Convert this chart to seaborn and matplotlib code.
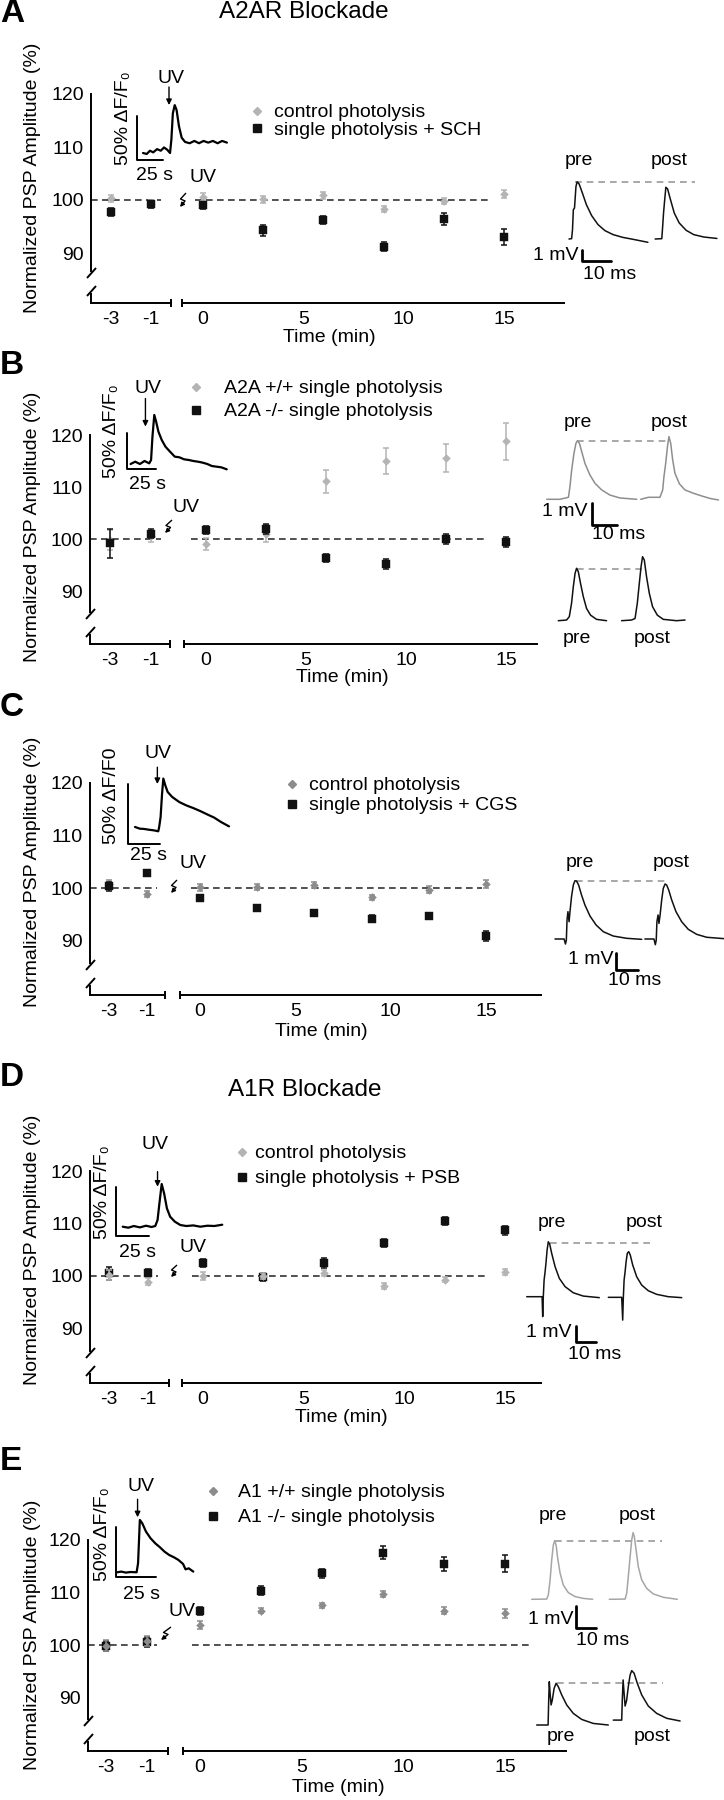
import numpy as np
import pandas as pd
import matplotlib
matplotlib.use("Agg")
import matplotlib.pyplot as plt
from matplotlib.lines import Line2D
import seaborn as sns

sns.set_theme(style="white")
plt.rcParams["font.family"] = ["Liberation Sans", "DejaVu Sans"]
plt.rcParams["font.size"] = 14
plt.rcParams["axes.linewidth"] = 1.4
for k in ["text.color", "axes.labelcolor", "xtick.color", "ytick.color", "axes.edgecolor"]:
    plt.rcParams[k] = "black"

# ---------------- data ----------------
time_pts = [-3, -1, 0, 3, 6, 9, 12, 15]

a_ctrl = [100.3, 99.2, 100.6, 100.1, 100.9, 98.3, 99.8, 101.1]
a_ctrl_err = [0.7, 0.8, 0.7, 0.6, 0.7, 0.6, 0.6, 0.8]
a_sch = [97.7, 99.2, 99.0, 94.3, 96.2, 91.2, 96.4, 93.0]
a_sch_err = [0.8, 0.7, 0.7, 1.0, 0.8, 0.9, 1.2, 1.5]

b_wt = [99.8, 100.5, 99.0, 101.0, 111.1, 115.0, 115.6, 118.8]
b_wt_err = [2.0, 1.0, 1.1, 1.6, 2.2, 2.5, 2.7, 3.6]
b_ko = [99.2, 101.0, 101.7, 101.9, 96.4, 95.2, 100.0, 99.4]
b_ko_err = [2.8, 0.9, 0.8, 1.0, 0.8, 1.0, 1.0, 0.9]

c_ctrl = [100.7, 98.9, 100.1, 100.2, 100.6, 98.2, 99.7, 100.8]
c_ctrl_err = [0.8, 0.6, 0.7, 0.5, 0.6, 0.5, 0.6, 0.8]
c_cgs = [100.3, 102.8, 98.1, 96.2, 95.3, 94.2, 94.7, 90.9]
c_cgs_err = [0.8, 0.4, 0.4, 0.6, 0.5, 0.6, 0.6, 0.9]

d_ctrl = [100.2, 98.9, 100.0, 100.0, 100.6, 98.1, 99.3, 100.7]
d_ctrl_err = [1.0, 0.7, 0.8, 0.6, 0.6, 0.6, 0.5, 0.6]
d_psb = [100.5, 100.6, 102.5, 99.8, 102.5, 106.3, 110.5, 108.7]
d_psb_err = [1.2, 0.8, 0.7, 0.8, 0.9, 0.7, 0.8, 0.8]

e_wt = [99.9, 100.8, 103.8, 106.5, 107.5, 109.7, 106.5, 106.0]
e_wt_err = [1.0, 0.9, 0.8, 0.5, 0.5, 0.5, 0.7, 0.8]
e_ko = [99.8, 100.6, 106.5, 110.3, 113.6, 117.5, 115.4, 115.4]
e_ko_err = [0.9, 0.9, 0.8, 0.9, 0.9, 1.2, 1.3, 1.6]

# calcium transients (s, % dF/F0)
a_ca_t = [0, 3.6, 6.7, 9.8, 13.5, 17.1, 20.2, 23.3, 26.0, 27.3, 28.7, 30.5, 32.3, 34.6, 37.2,
          40.4, 44.8, 49.4, 53.8, 58.2, 62.7, 67.2, 71.7, 76.1, 80.7]
a_ca_f = [0, -1.1, 2.6, 0.7, 4.4, 2.6, 6.3, 3.7, 0, 15.5, 45.1, 54.4, 48.8, 30.3, 17.4,
          12.6, 11.1, 13.7, 11.1, 13.7, 11.8, 13.7, 11.1, 13.7, 11.8]
b_ca_t = [0, 4.0, 8.1, 12.1, 16.2, 17.8, 19.0, 20.6, 22.2, 24.2, 27.1, 30.3, 34.3, 38.4, 42.4,
          46.5, 50.5, 54.5, 58.6, 62.6, 66.7, 70.7, 74.7, 78.8, 83.6]
b_ca_f = [0, 3.2, 0, 4.2, 0.9, 5.6, 37.9, 68.1, 58.8, 44.9, 33.3, 24.1, 17.1, 10.2, 9.3,
          6.5, 5.6, 4.2, 3.2, 1.9, 0, -2.8, -3.7, -4.6, -7.4]
c_ca_t = [0, 3.6, 7.2, 10.7, 14.3, 17.9, 18.6, 19.7, 20.8, 21.8, 23.3, 25.1, 28.6, 34.0, 39.4,
          44.7, 50.1, 55.5, 60.9, 66.2, 72.3]
c_ca_f = [4.2, 2.8, 2.5, 1.9, 1.4, 0.6, 4.2, 12.5, 31.7, 44.5, 38.9, 33.4, 29.2, 25.0, 22.2,
          20.0, 17.5, 14.7, 12.0, 8.3, 4.7]
d_ca_t = [0, 4.2, 8.3, 12.8, 17.4, 21.5, 24.3, 26.0, 27.4, 29.1, 30.9, 33.0, 35.4, 38.9, 43.0,
          47.5, 52.7, 57.9, 63.2, 68.4, 74.3]
d_ca_f = [0, -1.0, 0.7, -0.7, 1.0, -0.3, 0.7, 6.7, 23.6, 43.1, 33.7, 18.5, 10.1, 5.1, 1.7,
          0.7, 1.3, 0, 1.0, 0.7, 2.0]
e_ca_t = [0.9, 3.4, 6.3, 9.2, 12.9, 13.8, 14.4, 14.9, 16.4, 18.7, 21.5, 24.4, 27.3, 30.1, 33.0,
          35.9, 38.7, 41.6, 43.1, 45.1, 47.9]
e_ca_f = [0, 0.7, -0.3, 0.3, 0, 9.1, 32.7, 52.9, 49.5, 41.1, 34.4, 29.3, 25.3, 20.9, 17.5,
          15.2, 12.5, 8.4, 3.0, 4.0, 0.7]

# example PSPs (ms, mV)
a_pre_t = [0, 0.9, 1.2, 1.5, 1.9, 2.4, 2.8, 3.5, 4.6, 6.0, 7.8, 10.0, 12.4, 15.2, 18.5, 22.5, 27.2]
a_pre_v = [0, 0.03, 0.82, 2.66, 2.82, 4.77, 5.2, 5.0, 4.19, 3.12, 2.13, 1.31, 0.76, 0.4, 0.15, -0.05, -0.3]
a_post_t = [29.7, 32.0, 32.3, 32.6, 33.0, 33.4, 34.0, 35.0, 36.3, 38.0, 40.4, 43.0, 46.5, 51.0]
a_post_v = [0, 0.03, 1.15, 2.36, 3.57, 4.7, 4.55, 3.57, 2.36, 1.46, 0.79, 0.4, 0.18, 0.05]

b_wt_pre_t = [0, 5.3, 8.7, 9.3, 10, 10.9, 11.7, 12.3, 13.1, 14, 15.3, 17.3, 19.3, 22, 25.3, 29.3, 36]
b_wt_pre_v = [0, 0, 0.09, 0.57, 1.32, 2.06, 2.51, 2.63, 2.51, 2.14, 1.61, 1.09, 0.72, 0.42, 0.19, 0.06, 0]
b_wt_post_t = [37.6, 40.7, 45.3, 46.4, 46.9, 47.6, 48.3, 48.9, 49.6, 50.4, 51.3, 53.1, 55.3, 58.7, 62, 65.3, 68.7]
b_wt_post_v = [0, 0.09, 0.09, 0.42, 1.02, 1.61, 2.36, 2.81, 2.51, 1.76, 1.17, 0.69, 0.42, 0.27, 0.15, 0.04, -0.03]
b_ko_pre_t = [0, 3.3, 4.4, 5.3, 6, 6.7, 7.3, 8, 8.9, 10, 11.3, 12.9, 15.3, 19.3]
b_ko_pre_v = [0, 0.03, 0.18, 0.78, 1.52, 2.12, 2.35, 2.2, 1.67, 1.08, 0.55, 0.25, 0.06, 0]
b_ko_post_t = [25.3, 29.3, 30.7, 31.6, 32.4, 33.1, 33.7, 34.4, 35.3, 36.4, 37.7, 39.6, 42, 47.3, 50.7]
b_ko_post_v = [0, 0.03, 0.1, 0.78, 1.67, 2.42, 2.87, 2.72, 1.97, 1.23, 0.63, 0.25, 0.06, 0, 0.03]

c_pre_t = [0, 4.0, 4.6, 5.0, 5.3, 5.7, 6.2, 6.6, 7.3, 8.1, 8.8, 9.5, 10.4, 11.7, 13.2, 15.4, 18.1, 21.3, 25.7, 31.6, 38.2]
c_pre_v = [0, 0, -0.29, -0.06, 1.10, 1.58, 1.0, 1.58, 2.47, 3.14, 3.37, 3.35, 3.12, 2.54, 1.96, 1.33, 0.81, 0.42, 0.17, 0.04, -0.02]
c_post_t = [39.6, 43.6, 44.2, 44.6, 44.9, 45.4, 45.8, 46.3, 47.0, 47.7, 48.5, 49.2, 50.1, 51.4, 53.3, 55.8, 58.7, 62.4, 66.8, 74.5]
c_post_v = [0, 0, -0.33, -0.06, 1.0, 1.39, 0.9, 1.39, 2.26, 2.93, 3.18, 3.12, 2.83, 2.26, 1.58, 1.0, 0.56, 0.27, 0.1, 0.02]

d_pre_t = [0, 7.7, 8.0, 8.3, 8.7, 9.2, 9.7, 10.2, 10.8, 11.5, 12.5, 14.2, 16.3, 19.2, 23.3, 28.3, 36.3]
d_pre_v = [0, 0, -1.27, 0, 1.06, 1.59, 2.23, 2.97, 3.5, 3.35, 2.76, 1.91, 1.17, 0.64, 0.25, 0.04, -0.06]
d_post_t = [40.8, 47.5, 48.0, 48.3, 48.7, 49.2, 49.7, 50.3, 51.0, 51.8, 53.0, 55.0, 57.5, 60.8, 65.0, 70.8, 77.5]
d_post_v = [-0.04, -0.04, -1.49, -0.11, 1.06, 1.59, 2.23, 2.76, 2.87, 2.65, 2.02, 1.27, 0.74, 0.38, 0.15, 0, -0.06]

e_wt_pre_t = [0, 7.5, 8.3, 9.2, 10, 10.8, 11.5, 12.2, 13, 14.2, 15.8, 18.3, 21.7, 25.8, 30.5]
e_wt_pre_v = [0, 0.01, 0.19, 0.87, 1.76, 2.43, 2.63, 2.43, 1.84, 1.17, 0.64, 0.3, 0.12, 0.04, 0]
e_wt_post_t = [38.8, 46.7, 47.5, 48.3, 49.2, 50, 50.7, 51.3, 52.2, 53.3, 55, 57.5, 60.8, 65.8, 72.8]
e_wt_post_v = [0, 0.01, 0.27, 1.02, 1.91, 2.66, 2.99, 2.81, 2.21, 1.46, 0.87, 0.49, 0.24, 0.09, 0]
e_ko_pre_t = [0, 5.7, 6, 6.3, 6.7, 7.2, 7.8, 8.7, 9.7, 10.8, 12.5, 15, 18.3, 22.5, 28.3, 35.8]
e_ko_pre_v = [0, 0, 1.12, 1.94, 1.42, 0.9, 1.12, 1.64, 1.87, 1.72, 1.35, 0.9, 0.52, 0.25, 0.07, 0]
e_ko_post_t = [38.3, 42.5, 42.8, 43.2, 43.7, 44.2, 45, 45.8, 46.7, 47.5, 48.7, 50.3, 52.5, 55.8, 60, 65, 71.7]
e_ko_post_v = [0.22, 0.22, 1.12, 2.02, 1.42, 0.85, 1.12, 1.72, 2.24, 2.44, 2.32, 1.87, 1.35, 0.85, 0.52, 0.3, 0.18]

# ---------------- figure helpers (pixel layout) ----------------
W, H = 724, 1800
fig = plt.figure(figsize=(W / 100, H / 100), dpi=100)
FS = 14
LIGHT, MID, BLACK = "#b4b4b4", "#8c8c8c", "#111111"


def fbox(x0, y0, x1, y1):
    return [x0 / W, 1 - y1 / H, (x1 - x0) / W, (y1 - y0) / H]


def fline(xs, ys, lw=1.4):
    fig.add_artist(Line2D([x / W for x in xs], [1 - y / H for y in ys], lw=lw, color="black",
                          solid_capstyle="butt"))


def ftext(x, y, s, **kw):
    fig.text(x / W, 1 - y / H, s, **kw)


def scaled_axes(origin, ppx, ppy, box):
    x0, y0, x1, y1 = box
    ox, oy = origin
    ax = fig.add_axes(fbox(*box))
    ax.set_xlim((x0 - ox) / ppx, (x1 - ox) / ppx)
    ax.set_ylim((oy - y1) / ppy, (oy - y0) / ppy)
    ax.axis("off")
    return ax


def uv_bolt(text_xy, start, end):
    ftext(text_xy[0], text_xy[1], "UV", ha="center", va="center", fontsize=FS)
    sx, sy = start
    ex, ey = end
    mx, my = (sx + ex) / 2, (sy + ey) / 2
    fline([sx, mx - 2.5, mx + 2.0], [sy, my - 1, my + 1], lw=1.0)
    fig.axes[-1].annotate("", xy=(ex, H - ey), xytext=(mx + 2.0, H - my - 1),
                          xycoords="figure pixels", textcoords="figure pixels",
                          arrowprops=dict(arrowstyle="-|>", color="black", lw=1.0,
                                          mutation_scale=6, shrinkA=0, shrinkB=0),
                          annotation_clip=False)


def panel(lay, series, labels):
    Y, y100, ppu = lay["Y"], lay["y100"], lay["ppu"]
    top = y100 - 26 * ppu
    ybot = 100 - (Y - y100) / ppu
    axl = fig.add_axes(fbox(lay["l0"], top, lay["l1"], Y))
    axr = fig.add_axes(fbox(lay["r0"], top, lay["r1"], Y))
    ppl = (lay["xm1"] - lay["xm3"]) / 2
    ppr = (lay["x15"] - lay["x0"]) / 15
    xl = (-3 + (lay["l0"] - lay["xm3"]) / ppl, -3 + (lay["l1"] - lay["xm3"]) / ppl)
    xr = ((lay["r0"] - lay["x0"]) / ppr, (lay["r1"] - lay["x0"]) / ppr)
    dashes = {True: (xl[0], -0.5), False: lay["dash"]}
    for ax, lim, pre in ((axl, xl, True), (axr, xr, False)):
        ax.patch.set_visible(False)
        ax.hlines(100, *dashes[pre], colors="#333333", linestyles=(0, (4, 2.6)), lw=1.2, zorder=1)
        for s in series:
            df = pd.DataFrame({"time": time_pts, "amp": s["mean"], "sem": s["err"]})
            sub = df[df["time"] < 0] if pre else df[df["time"] >= 0]
            ax.errorbar(sub["time"], sub["amp"], yerr=sub["sem"], fmt="none", ecolor=s["color"],
                        elinewidth=1.1, capsize=2.2, capthick=1.1, zorder=s["z"])
            sns.scatterplot(data=sub, x="time", y="amp", marker=s["marker"], s=s["size"],
                            color=s["color"], edgecolor=s["color"], linewidth=0.3,
                            ax=ax, zorder=s["z"] + 0.5, legend=False)
        ax.set_xlim(*lim)
        ax.set_ylim(ybot, 126)
        ax.set_xlabel("")
        ax.set_ylabel("")
        ax.spines["top"].set_visible(False)
        ax.spines["right"].set_visible(False)
        ax.tick_params(axis="x", length=3, width=1.2, pad=3, labelsize=FS)
        ax.tick_params(axis="y", length=4, width=1.4, pad=1, labelsize=FS)
    axr.spines["left"].set_visible(False)
    axr.set_yticks([])
    axl.set_yticks([90, 100, 110, 120], labels=["90", "100", "110", "120"])
    axl.spines["left"].set_bounds(ybot + 32 / ppu, 120)
    axl.set_xticks([-3, -1], labels=["-3", "-1"])
    axr.set_xticks([0, 5, 10, 15], labels=["0", "5", "10", "15"])

    # axis breaks
    xa = lay["l0"]
    fline([xa - 4, xa + 5], [Y - 25, Y - 35])
    fline([xa - 4, xa + 5], [Y - 7, Y - 17])
    fline([xa, xa], [Y - 10, Y + 0.7])
    fline([lay["l1"], lay["l1"]], [Y - 4, Y + 4])
    fline([lay["r0"], lay["r0"]], [Y - 4, Y + 4])

    # legend
    mx, tx, y1, y2 = lay["leg"]
    fpx = FS * 100 / 72
    hl = 0.6
    handles = [Line2D([], [], ls="none", marker=s["marker"], color=s["color"],
                      markersize=np.sqrt(s["size"])) for s in sorted(series, key=lambda q: q["leg"])]
    names = [s["label"] for s in sorted(series, key=lambda q: q["leg"])]
    axr.legend(handles, names, loc="upper left",
               bbox_to_anchor=((mx - hl / 2 * fpx) / W, 1 - (y1 - 0.58 * fpx) / H),
               bbox_transform=fig.transFigure, frameon=False, borderpad=0, borderaxespad=0,
               handlelength=hl, handletextpad=(tx - mx) / fpx - hl / 2,
               labelspacing=max(0.0, (y2 - y1) / fpx - 1.16), fontsize=FS)

    ftext(33, lay["ylab"], "Normalized PSP Amplitude (%)", rotation=90, ha="center", va="center", fontsize=FS)
    ftext(lay["xlab"][0], lay["xlab"][1], "Time (min)", ha="center", va="center", fontsize=FS)
    ftext(0, lay["letter"], labels["letter"], fontsize=24, fontweight="bold", ha="left", va="center")
    if labels.get("title"):
        ftext(lay["title"][0], lay["title"][1], labels["title"], fontsize=17.5, ha="center", va="center")
    uv_bolt(*lay["uv"])
    return axl, axr


def ca_inset(c, t, f, label50):
    ox, oy = c["origin"]
    ax = scaled_axes(c["origin"], c["ppx"], c["ppy"], (ox - 45, oy - 100, ox + 110, oy + 45))
    ax.plot(t, f, color="black", lw=1.6, clip_on=False)
    bx, by = c["corner"]
    ax.plot([bx, bx, bx + 25], [by + 50, by, by], color="black", lw=1.4, clip_on=False)
    ax.text(c["uv"][0], c["uv"][1], "UV", ha="center", va="center", fontsize=FS)
    at, f0, f1 = c["arrow"]
    ax.annotate("", xy=(at, f1), xytext=(at, f0),
                arrowprops=dict(arrowstyle="-|>", color="black", lw=1.0, mutation_scale=8,
                                shrinkA=0, shrinkB=0))
    ax.text(c["lab50"][0], c["lab50"][1], label50, rotation=90, ha="center", va="center", fontsize=FS)
    ax.text(c["lab25"][0], c["lab25"][1], "25 s", ha="center", va="center", fontsize=FS)


def psp_group(g, traces, color, bar=True):
    ox, oy = g["origin"]
    ax = scaled_axes(g["origin"], g["ppx"], g["ppy"], (ox - 40, oy - 110, W, oy + 60))
    dv, d0, d1 = g["dash"]
    ax.hlines(dv, d0, d1, colors="#9a9a9a", linestyles=(0, (4, 3)), lw=1.2)
    for t, v in traces:
        ax.plot(t, v, color=color, lw=1.1)
    for txt, (tt, vv) in zip(["pre", "post"], g["labels"]):
        ax.text(tt, vv, txt, ha="center", va="center", fontsize=FS)
    if bar:
        bx, by = g["bar"]
        ax.plot([bx, bx, bx + 10], [by + 1, by, by], color="black", lw=2.0)
        ax.text(g["mv"][0], g["mv"][1], "1 mV", ha="right", va="center", fontsize=FS)
        ax.text(g["ms"][0], g["ms"][1], "10 ms", ha="center", va="center", fontsize=FS)


def series(mean, err, color, marker, label, z, leg):
    return dict(mean=mean, err=err, color=color, marker=marker, label=label, z=z, leg=leg,
                size=34 if marker == "s" else 16)


# ---------------- panel A ----------------
layA = dict(Y=303, y100=200, ppu=5.3, xm3=111, xm1=151, x0=203, x15=504, l0=91, l1=171, r0=182,
            r1=564, dash=(-0.4, 14.4), leg=(257, 274, 115, 137), ylab=178, xlab=(329, 338),
            letter=14, title=(304, 12), uv=((203, 178), (186, 193), (180, 207)))
panel(layA, [series(a_ctrl, a_ctrl_err, LIGHT, "D", "control photolysis", 3, 0),
             series(a_sch, a_sch_err, BLACK, "s", "single photolysis + SCH", 4, 1)],
      dict(letter="A", title="A2AR Blockade"))
ca_inset(dict(origin=(143, 153), ppx=1.04, ppy=0.88, corner=(-5.8, -8.0), uv=(26.9, 85),
              arrow=(25, 75, 54.5), lab50=(-19.2, 40), lab25=(11.5, -26)),
         a_ca_t, a_ca_f, "50% ΔF/F₀")
psp_group(dict(origin=(569, 239), ppx=2.9, ppy=11, dash=(5.2, 2, 43.4),
               labels=[(3.4, 7.1), (34.5, 7.1)], bar=(4.5, -2.0), mv=(3.2, -1.5), ms=(13.9, -3.2)),
          [(a_pre_t, a_pre_v), (a_post_t, a_post_v)], BLACK)

# ---------------- panel B ----------------
layB = dict(Y=644, y100=539, ppu=5.2, xm3=110, xm1=151, x0=206, x15=506, l0=90, l1=170, r0=184,
            r1=537, dash=(-0.75, 14.0), leg=(196, 224, 391, 419), ylab=527, xlab=(342, 678),
            letter=365, uv=((186, 507), (172, 520), (165, 533)))
panel(layB, [series(b_wt, b_wt_err, LIGHT, "D", "A2A +/+ single photolysis", 3, 0),
             series(b_ko, b_ko_err, BLACK, "s", "A2A -/- single photolysis", 4, 1)],
      dict(letter="B"))
ca_inset(dict(origin=(130.6, 464), ppx=1.15, ppy=0.72, corner=(-2.8, -7.4), uv=(15, 105),
              arrow=(12.9, 91, 52), lab50=(-16.2, 45), lab25=(15, -28)),
         b_ca_t, b_ca_f, "50% ΔF/F₀")
psp_group(dict(origin=(546.7, 499.3), ppx=2.5, ppy=22.3, dash=(2.63, 12.3, 48),
               labels=[(12.6, 3.44), (48.9, 3.44)], bar=(18, -1.15), mv=(16.5, -0.56), ms=(28.6, -1.56)),
          [(b_wt_pre_t, b_wt_pre_v), (b_wt_post_t, b_wt_post_v)], "#8e8e8e")
psp_group(dict(origin=(558.3, 620.7), ppx=2.5, ppy=22.3, dash=(2.3, 7.3, 35.1),
               labels=[(7.4, -0.78), (37.7, -0.78)]),
          [(b_ko_pre_t, b_ko_pre_v), (b_ko_post_t, b_ko_post_v)], BLACK, bar=False)

# ---------------- panel C ----------------
layC = dict(Y=995, y100=888, ppu=5.27, xm3=109, xm1=147, x0=200, x15=486, l0=90, l1=165, r0=180,
            r1=541, dash=(-0.47, 14.8), leg=(292, 309, 788, 813), ylab=872, xlab=(321, 1032),
            letter=708, uv=((193, 864), (177, 880), (171, 893)))
panel(layC, [series(c_ctrl, c_ctrl_err, MID, "D", "control photolysis", 3, 0),
             series(c_cgs, c_cgs_err, BLACK, "s", "single photolysis + CGS", 4, 1)],
      dict(letter="C"))
ca_inset(dict(origin=(135, 832), ppx=1.3, ppy=1.2, corner=(-5.4, -9.7), uv=(17.9, 65),
              arrow=(17.2, 54, 40), lab50=(-17.9, 30.6), lab25=(10.7, -20)),
         c_ca_t, c_ca_f, "50% ΔF/F0")
psp_group(dict(origin=(555, 939), ppx=2.27, ppy=17.3, dash=(3.37, 9.1, 49.2),
               labels=[(10.8, 4.42), (51, 4.42)], bar=(26.7, -1.79), mv=(25.7, -1.17), ms=(34.9, -2.42)),
          [(c_pre_t, c_pre_v), (c_post_t, c_post_v)], BLACK)

# ---------------- panel D ----------------
layD = dict(Y=1383, y100=1276, ppu=5.25, xm3=109, xm1=148, x0=203, x15=505, l0=90, l1=169, r0=182,
            r1=541, dash=(-0.55, 14.2), leg=(242, 255, 1156, 1186), ylab=1250, xlab=(341, 1417),
            letter=1077, title=(305, 1090), uv=((193, 1248), (177, 1265), (171, 1277)))
panel(layD, [series(d_ctrl, d_ctrl_err, LIGHT, "D", "control photolysis", 5, 0),
             series(d_psb, d_psb_err, BLACK, "s", "single photolysis + PSB", 3, 1)],
      dict(letter="D", title="A1R Blockade"))
ca_inset(dict(origin=(122.7, 1226.7), ppx=1.34, ppy=0.99, corner=(-5.2, -9.4), uv=(24.3, 82.6),
              arrow=(26, 55.6, 40.4), lab50=(-14.9, 35), lab25=(11.1, -26)),
         d_ca_t, d_ca_f, "50% ΔF/F₀")
psp_group(dict(origin=(526.7, 1296.7), ppx=2.0, ppy=15.7, dash=(3.44, 11.7, 64.2),
               labels=[(12.5, 4.73), (58.6, 4.73)], bar=(24.7, -2.87), mv=(22.5, -2.25), ms=(34.2, -3.71)),
          [(d_pre_t, d_pre_v), (d_post_t, d_post_v)], BLACK)

# ---------------- panel E ----------------
layE = dict(Y=1751, y100=1645, ppu=5.27, xm3=106, xm1=147, x0=200, x15=505, l0=88, l1=168, r0=183,
            r1=566, dash=(-0.4, 16.4), leg=(213, 238, 1495, 1525), ylab=1635, xlab=(338, 1788),
            letter=1462, uv=((182, 1612), (171, 1627), (161, 1640)))
panel(layE, [series(e_wt, e_wt_err, MID, "D", "A1 +/+ single photolysis", 5, 0),
             series(e_ko, e_ko_err, BLACK, "s", "A1 -/- single photolysis", 3, 1)],
      dict(letter="E"))
ca_inset(dict(origin=(115.7, 1572.3), ppx=1.62, ppy=0.99, corner=(0, -4.4), uv=(15.8, 86.6),
              arrow=(13.5, 73.8, 55.6), lab50=(-8, 39), lab25=(15.8, -22)),
         e_ca_t, e_ca_f, "50% ΔF/F₀")
psp_group(dict(origin=(531.7, 1599.3), ppx=2.0, ppy=22.3, dash=(2.63, 11.5, 65),
               labels=[(10.8, 3.78), (52.5, 3.78)], bar=(22.2, -1.3), mv=(20.8, -0.89), ms=(35.7, -1.86)),
          [(e_wt_pre_t, e_wt_pre_v), (e_wt_post_t, e_wt_post_v)], "#a6a6a6")
psp_group(dict(origin=(536.7, 1725), ppx=2.0, ppy=22.3, dash=(1.9, 10, 63.3),
               labels=[(12, -0.52), (57.9, -0.52)]),
          [(e_ko_pre_t, e_ko_pre_v), (e_ko_post_t, e_ko_post_v)], BLACK, bar=False)

fig.savefig("out.png", dpi=100)
